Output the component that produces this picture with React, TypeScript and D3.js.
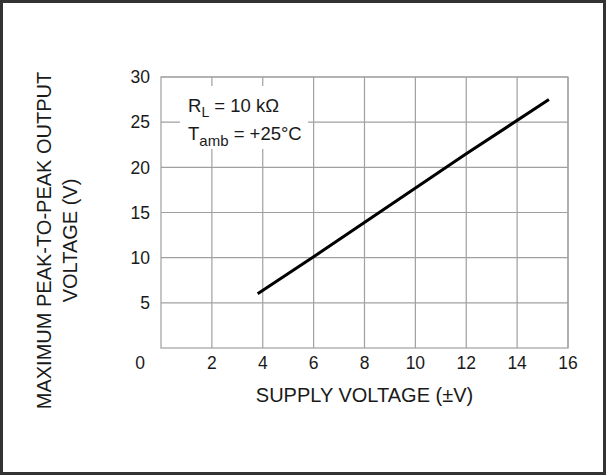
import React from "react";
import * as d3 from "d3";

const supplyVoltage = [3.8, 6, 9, 12, 15.25];
const outputVpp = [6.0, 10.1, 15.8, 21.5, 27.5];
const xTicks = [2, 4, 6, 8, 10, 12, 14, 16];
const yTicks = [5, 10, 15, 20, 25, 30];
const xTitle = "SUPPLY VOLTAGE (±V)";
const yTitle1 = "MAXIMUM PEAK-TO-PEAK OUTPUT";
const yTitle2 = "VOLTAGE (V)";

const W = 606;
const H = 475;
const FONT = "'Liberation Sans', Arial, Helvetica, sans-serif";

export default function App() {
  const x = d3.scaleLinear().domain([0, 16]).range([161, 568]);
  const y = d3.scaleLinear().domain([0, 30]).range([348, 77]);
  const line = d3
    .line<number>()
    .x((_, i) => x(supplyVoltage[i]))
    .y((d) => y(d));
  const gridColor = "#a0a0a0";
  const textColor = "#1a1a1a";
  return (
    <svg
      width={W}
      height={H}
      style={{ position: "absolute", left: 0, top: 0, background: "#fff" }}
    >
      <rect x={0} y={0} width={W} height={H} fill="#fff" />
      {/* grid */}
      {xTicks.map((t) => (
        <line
          key={"gx" + t}
          x1={x(t)}
          x2={x(t)}
          y1={y(0)}
          y2={y(30)}
          stroke={gridColor}
          strokeWidth={1.2}
        />
      ))}
      {yTicks.map((t) => (
        <line
          key={"gy" + t}
          x1={x(0)}
          x2={x(16)}
          y1={y(t)}
          y2={y(t)}
          stroke={gridColor}
          strokeWidth={1.2}
        />
      ))}
      <rect
        x={x(0)}
        y={y(30)}
        width={x(16) - x(0)}
        height={y(0) - y(30)}
        fill="none"
        stroke={gridColor}
        strokeWidth={1.2}
      />
      {/* annotation box */}
      <rect x={x(0) + 19} y={y(30) + 9} width={128} height={63} fill="#fff" />
      <text
        x={x(0) + 27}
        y={y(30) + 35}
        fontFamily={FONT}
        fontSize={18.5}
        fill={textColor}
      >
        R
        <tspan fontSize={14} dy={5}>
          L
        </tspan>
        <tspan dy={-5}> = 10 kΩ</tspan>
      </text>
      <text
        x={x(0) + 27}
        y={y(30) + 63}
        fontFamily={FONT}
        fontSize={18.5}
        fill={textColor}
      >
        T
        <tspan fontSize={15} dy={6}>
          amb
        </tspan>
        <tspan dy={-6}> = +25°C</tspan>
      </text>
      {/* data line */}
      <path
        d={line(outputVpp) || ""}
        fill="none"
        stroke="#000"
        strokeWidth={3}
        strokeLinecap="butt"
      />
      {/* tick labels */}
      {xTicks.map((t) => (
        <text
          key={"lx" + t}
          x={x(t)}
          y={y(0) + 21}
          textAnchor="middle"
          fontFamily={FONT}
          fontSize={17.5}
          fill={textColor}
        >
          {t}
        </text>
      ))}
      {yTicks.map((t) => (
        <text
          key={"ly" + t}
          x={x(0) - 11}
          y={y(t) + 6.3}
          textAnchor="end"
          fontFamily={FONT}
          fontSize={17.5}
          fill={textColor}
        >
          {t}
        </text>
      ))}
      <text
        x={x(0) - 21}
        y={y(0) + 21}
        textAnchor="middle"
        fontFamily={FONT}
        fontSize={17.5}
        fill={textColor}
      >
        0
      </text>
      {/* axis titles */}
      <text
        x={x(8)}
        y={401.5}
        textAnchor="middle"
        fontFamily={FONT}
        fontSize={20}
        fill={textColor}
      >
        {xTitle}
      </text>
      <text
        transform={`translate(50.5, ${(y(0) + y(30)) / 2 + 28}) rotate(-90)`}
        textAnchor="middle"
        fontFamily={FONT}
        fontSize={20}
        fill={textColor}
      >
        {yTitle1}
      </text>
      <text
        transform={`translate(76.5, ${(y(0) + y(30)) / 2 + 28}) rotate(-90)`}
        textAnchor="middle"
        fontFamily={FONT}
        fontSize={20}
        fill={textColor}
      >
        {yTitle2}
      </text>
      {/* outer frame */}
      <rect
        x={1.5}
        y={1.5}
        width={W - 3}
        height={H - 3}
        fill="none"
        stroke="#333"
        strokeWidth={3}
      />
    </svg>
  );
}
